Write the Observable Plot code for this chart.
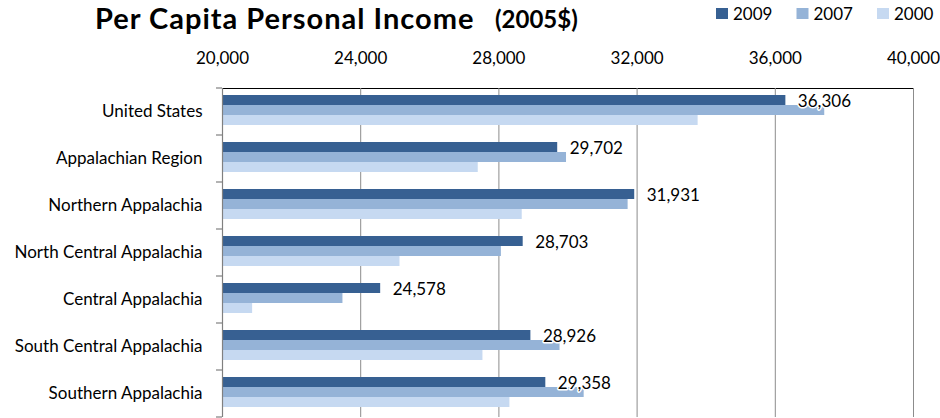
<!DOCTYPE html>
<html>
<head>
<meta charset="utf-8">
<script src="https://cdn.jsdelivr.net/npm/d3@7"></script>
<script src="https://cdn.jsdelivr.net/npm/@observablehq/plot@0.6"></script>
<style>
  html, body { margin: 0; padding: 0; background: #fff; }
  #wrap { width: 940px; font-family: Lato, sans-serif; }
  #header { display: block; }
  #chart svg .domain { stroke: #8c8c8c; }
</style>
</head>
<body>
<div id="wrap">
  <svg id="header" width="940" height="40"></svg>
  <div id="chart"></div>
</div>
<script>
// ---- data ----
const regions = [
  "United States",
  "Appalachian Region",
  "Northern Appalachia",
  "North Central Appalachia",
  "Central Appalachia",
  "South Central Appalachia",
  "Southern Appalachia"
];
const years = ["2009", "2007", "2000"];
const income2009 = [36306, 29702, 31931, 28703, 24578, 28926, 29358];
const income2007 = [37431, 29957, 31740, 28072, 23486, 29769, 30468];
const income2000 = [33766, 27402, 28675, 25137, 20872, 27538, 28319];
const xTicks = [20000, 24000, 28000, 32000, 36000, 40000];
const yearColors = ["#376092", "#95b3d7", "#c6d9f1"];
const titleText = "Per Capita Personal Income";
const subtitleText = "(2005$)";

// ---- table ----
const series = [income2009, income2007, income2000];
const data = regions.flatMap((region, i) =>
  years.map((year, j) => ({ region, year, value: series[j][i] }))
);
const fmt = d3.format(",");

// ---- header (title + legend) ----
const header = d3.select("#header");
header.append("text")
  .attr("x", 95).attr("y", 29)
  .attr("font-family", "Lato").attr("font-weight", "bold")
  .attr("font-size", 29).attr("letter-spacing", 1).attr("fill", "#000")
  .text(titleText);
header.append("text")
  .attr("x", 495).attr("y", 28)
  .attr("font-family", "Lato").attr("font-weight", "bold")
  .attr("font-size", 24).attr("fill", "#000")
  .text(subtitleText);

years.forEach((y, i) => {
  const x0 = 716 + i * 80.5;
  header.append("rect").attr("x", x0).attr("y", 8).attr("width", 12).attr("height", 11)
    .attr("fill", yearColors[i]);
  header.append("text").attr("x", x0 + 17).attr("y", 19.5)
    .attr("font-family", "Lato").attr("font-size", 17).attr("fill", "#000").text(y);
});

// ---- chart ----
const chart = Plot.plot({
  width: 940,
  height: 378,
  marginLeft: 222,
  marginRight: 27,
  marginTop: 48,
  marginBottom: 1,
  style: { fontFamily: "Lato", fontSize: "17px", color: "#000", background: "#fff", overflow: "visible" },
  x: { domain: [xTicks[0], xTicks[xTicks.length - 1]], ticks: xTicks, tickFormat: d => fmt(d), axis: "top",
       tickSize: 0, tickPadding: 25, label: null, line: true },
  y: { domain: years, axis: null, paddingInner: 0, paddingOuter: 0.7, align: 0.4 },
  fy: { domain: regions, axis: "left", padding: 0, tickSize: 0, tickPadding: 20, label: null },
  color: { domain: years, range: yearColors },
  facet: { data, y: "region" },
  marks: [
    Plot.ruleX(xTicks.slice(1), { stroke: "#8c8c8c", strokeWidth: 1 }),
    Plot.barX(data, { x1: () => xTicks[0], x2: "value", y: "year", fill: "year" }),
    Plot.ruleX([xTicks[0]], { stroke: "#808080", strokeWidth: 1.2 }),
    Plot.text(data, {
      filter: d => d.year === years[0],
      x: "value", y: "year", text: d => fmt(d.value),
      dx: 12, dy: 1, textAnchor: "start", fill: "#000",
      stroke: "#fff", strokeWidth: 3, fontSize: 17, fontFamily: "Lato"
    })
  ]
});
document.getElementById("chart").appendChild(chart);

// category boundary ticks on the left axis, positioned with the fy scale
const fyScale = chart.scale("fy");
const svg = d3.select(chart.tagName.toLowerCase() === "svg" ? chart : chart.querySelector("svg"));
const r0 = Math.min(...fyScale.range), r1 = Math.max(...fyScale.range);
const step = (r1 - r0) / regions.length;
const bounds = d3.range(regions.length + 1).map(i => r0 + i * step);
const xLeft = Math.min(...chart.scale("x").range);
svg.append("g").selectAll("line").data(bounds).join("line")
  .attr("x1", xLeft - 6).attr("x2", xLeft)
  .attr("y1", d => d).attr("y2", d => d)
  .attr("stroke", "#808080").attr("stroke-width", 1.2);
</script>
</body>
</html>
